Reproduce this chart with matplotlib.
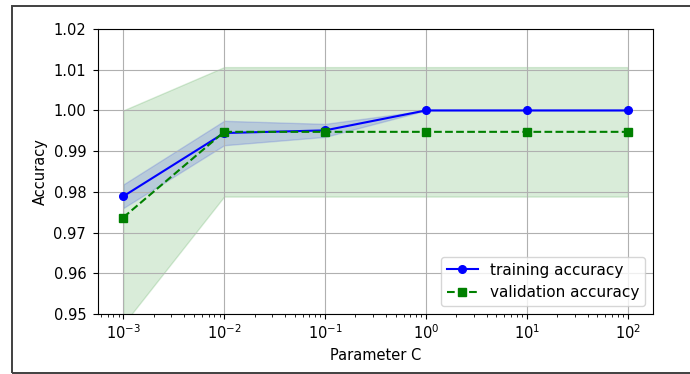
import matplotlib
matplotlib.use("Agg")
import matplotlib.pyplot as plt
import numpy as np
from matplotlib.patches import Rectangle

param_range = [0.001, 0.01, 0.1, 1.0, 10.0, 100.0]

train_mean = [0.9789, 0.99445, 0.9951, 1.0, 1.0, 1.0]
train_std = [0.0029, 0.0030, 0.0016, 0.0, 0.0, 0.0]

test_mean = [0.9737, 0.99474, 0.99474, 0.99474, 0.99474, 0.99474]
test_std = [0.0263, 0.0159, 0.0159, 0.0159, 0.0159, 0.0159]

train_mean = np.array(train_mean)
train_std = np.array(train_std)
test_mean = np.array(test_mean)
test_std = np.array(test_std)

plt.rcParams["font.size"] = 10.5

fig = plt.figure(figsize=(6.9, 3.74), dpi=100)
ax = fig.add_axes([98 / 690, 1 - 314 / 374, (653 - 98) / 690, (314 - 29) / 374])

ax.plot(param_range, train_mean, color="blue", marker="o",
        markersize=5.5, label="training accuracy")
ax.fill_between(param_range, train_mean + train_std, train_mean - train_std,
                alpha=0.15, color="blue")

ax.plot(param_range, test_mean, color="green", linestyle="--",
        marker="s", markersize=5.5, label="validation accuracy")
ax.fill_between(param_range, test_mean + test_std, test_mean - test_std,
                alpha=0.15, color="green")

ax.grid()
ax.set_xscale("log")
ax.tick_params(axis="y", pad=5)
ax.legend(loc="lower right", fontsize=11)
ax.set_xlabel("Parameter C")
ax.set_ylabel("Accuracy", labelpad=4)
ax.set_ylim([0.95, 1.02])

# frame around the whole image
fig.patches.append(Rectangle((11.5 / 690, 1.5 / 374), 700 / 690, 366.5 / 374,
                             transform=fig.transFigure, fill=False,
                             edgecolor="#404040", linewidth=1.4))

fig.savefig("out.png", dpi=100)
